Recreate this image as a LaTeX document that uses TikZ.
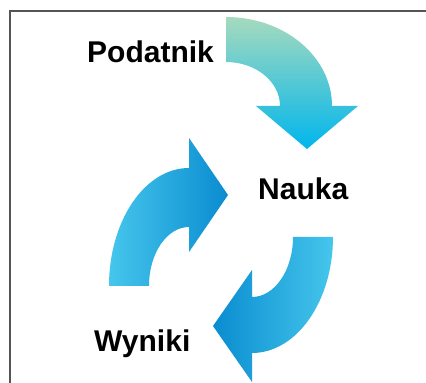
\documentclass[tikz,border=0pt]{standalone}
\usepackage{fontspec}
\setmainfont{Liberation Sans}
\definecolor{topgreen}{HTML}{A6DABE}
\definecolor{cyanmid}{HTML}{00B6EC}
\definecolor{lightcyan}{HTML}{45C6EC}
\definecolor{darkblue}{HTML}{0A8CD0}
\definecolor{framegray}{HTML}{555555}
\tikzset{
  lbl/.style={font=\fontsize{30}{30}\selectfont\bfseries, inner sep=0pt, anchor=base west, text=black},
  frameline/.style={draw=framegray, line width=1.6pt},
}
\begin{document}
\begin{tikzpicture}[x=1pt,y=1pt]
\useasboundingbox (0,0) rectangle (426,383);
\fill[white] (0,0) rectangle (426,383);
% frame
\coordinate (f1) at (10,0);
\coordinate (f2) at (10,372);
\coordinate (f3) at (426,372);
\draw[frameline] (f1) -- (f2) -- (f3);
% top arrow (Podatnik -> Nauka)
\shade[top color=topgreen, bottom color=cyanmid, shading angle=0]
  (226,366) arc[start angle=90, end angle=0, x radius=106, y radius=89]
  -- (358,277) -- (307,234) -- (256,277) -- (280,277)
  arc[start angle=0, end angle=90, x radius=54, y radius=44] -- cycle;
% left arrow (Wyniki -> Nauka)
\shade[left color=lightcyan, middle color=cyanmid, right color=darkblue]
  (109,97) arc[start angle=180, end angle=90, x radius=80, y radius=118]
  -- (189,245) -- (228,188) -- (189,131) -- (189,156)
  arc[start angle=90, end angle=180, x radius=40, y radius=59] -- cycle;
% bottom arrow (Nauka -> Wyniki)
\shade[left color=darkblue, middle color=cyanmid, right color=lightcyan]
  (333,146) arc[start angle=0, end angle=-90, x radius=81, y radius=116]
  -- (252,1) -- (213,57) -- (252,113) -- (252,86)
  arc[start angle=-90, end angle=0, x radius=41, y radius=60] -- cycle;
% labels
\node[lbl] (pod) at (87,320) {Podatnik};
\node[lbl] (nau) at (258,183) {Nauka};
\node[lbl] (wyn) at (94,31) {Wyniki};
\end{tikzpicture}
\end{document}
